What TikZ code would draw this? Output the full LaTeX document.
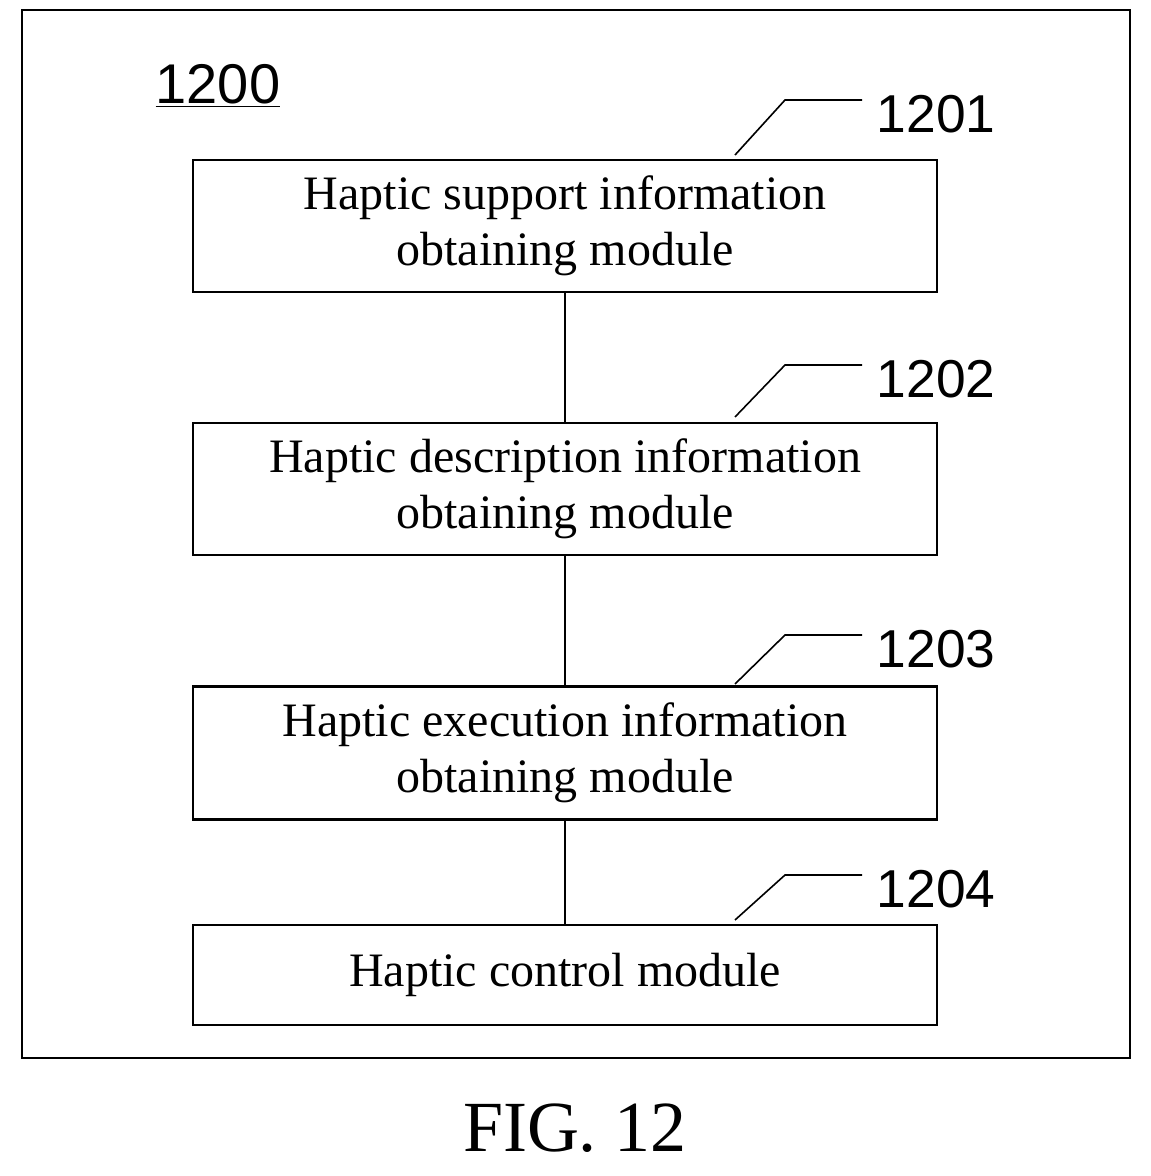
\documentclass[tikz,border=0pt]{standalone}
\usepackage{fontspec}
\setmainfont{Liberation Serif}
\newfontfamily\numfont{Liberation Sans}
\begin{document}
\begin{tikzpicture}[x=0.75pt,y=-0.75pt,
  box/.style={draw,line width=2pt,minimum width=744*0.75pt,align=center,font=\fontsize{36}{42}\selectfont,inner sep=0pt},
  lead/.style={line width=1.2pt},
  num/.style={font=\numfont\fontsize{40}{40}\selectfont,anchor=west}]
\useasboundingbox (0,0) rectangle (1151,1176);
\draw[line width=1.5pt] (22,10) rectangle (1130,1058);
\node[font=\numfont\fontsize{42}{42}\selectfont] (t) at (218,86) {\underline{1200}};
\node[box,minimum height=132*0.75pt] (b1) at (565,226) {Haptic support information\\obtaining module};
\node[box,minimum height=132*0.75pt] (b2) at (565,489) {Haptic description information\\obtaining module};
\node[box,minimum height=133*0.75pt] (b3) at (565,753) {Haptic execution information\\obtaining module};
\node[box,minimum height=100*0.75pt] (b4) at (565,975) {Haptic control module};
\draw[line width=1.2pt] (b1.south) -- (b2.north);
\draw[line width=1.2pt] (b2.south) -- (b3.north);
\draw[line width=1.2pt] (b3.south) -- (b4.north);
\foreach \i/\y/\b in {1/100/155,2/365/417,3/635/684,4/875/920}{
  \coordinate (p\i) at (735,\b);
  \coordinate (q\i) at (785,\y);
  \coordinate (r\i) at (862,\y);
  \draw[lead] (p\i) -- (q\i) -- (r\i);
  \node[num] (n\i) at (872,\y+14) {120\i};
}
\node[font=\fontsize{54}{54}\selectfont] (fig) at (575,1128) {FIG. 12};
\end{tikzpicture}
\end{document}
